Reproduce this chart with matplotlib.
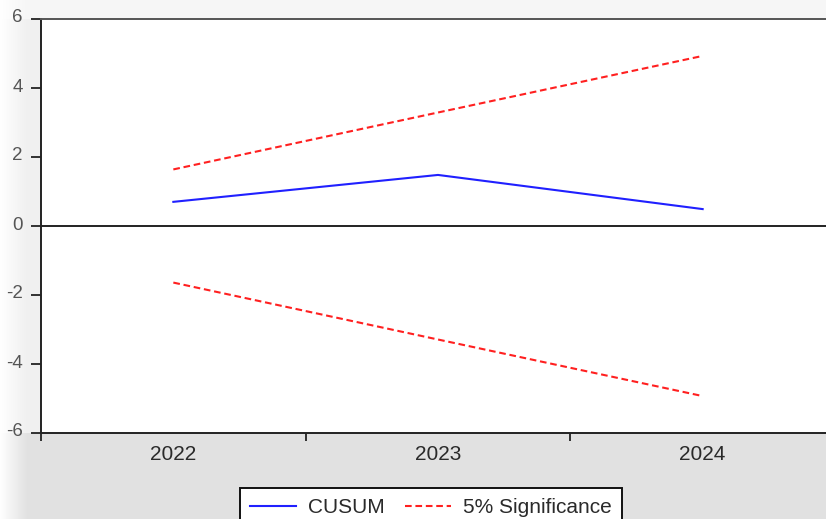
import numpy as np
import matplotlib
matplotlib.use('Agg')
import matplotlib.pyplot as plt
from matplotlib.patches import Rectangle
from matplotlib.transforms import ScaledTranslation

plt.rcParams['font.family'] = ['Liberation Sans', 'DejaVu Sans']

years = ['2022', '2023', '2024']
cusum = [0.70, 1.48, 0.49]
upper_5pct = [1.64, 3.29, 4.93]
lower_5pct = [-1.64, -3.29, -4.93]

W, H = 826, 519
fig = plt.figure(figsize=(W / 100, H / 100), dpi=100, facecolor='#e1e1e1')

# lighter window area above the bottom strip, with a soft fade at the left edge
fig.patches.append(Rectangle((0, 86 / H), 1, 1, transform=fig.transFigure,
                             facecolor='#f0f0f0', edgecolor='none', zorder=-3))
fig.patches.append(Rectangle((0, 500 / H), 1, 1, transform=fig.transFigure,
                             facecolor='#f6f6f6', edgecolor='none', zorder=-2))
fade = np.linspace(1.0, 0.0, 64)[None, :]
fax = fig.add_axes([0, 0, 28 / W, 1], zorder=-1)
fax.imshow(np.dstack([np.ones((1, 64, 3)), fade[..., None]]), aspect='auto',
           extent=[0, 1, 0, 1])
fax.axis('off')

ax = fig.add_axes([41 / W, 86 / H, 794 / W, 414 / H])
ax.set_facecolor('white')
x = np.arange(len(years))

ax.plot(x, cusum, color='#2020ff', lw=1.5, label='CUSUM')
ax.plot(x, upper_5pct, color='#ff2020', lw=1.5, ls=(0, (3.2, 1.8)), label='5% Significance')
ax.plot(x, lower_5pct, color='#ff2020', lw=1.5, ls=(0, (3.2, 1.8)))
ax.axhline(0, color='#111111', lw=1.3)

ax.set_xlim(-0.5, 2.5)
ax.set_ylim(-6, 6)
ax.set_yticks([-6, -4, -2, 0, 2, 4, 6])
ax.set_yticklabels(['-6', '-4', '-2', '0', '2', '4', '6'])
ax.tick_params(axis='y', direction='out', length=7, width=1.3, color='#222222',
               labelsize=13.5, labelcolor='#555555', pad=6)
# y labels sit a touch above their ticks
lift = ScaledTranslation(0, 3 / 100, fig.dpi_scale_trans)
for lbl in ax.get_yticklabels():
    lbl.set_transform(lbl.get_transform() + lift)

# year boundaries carry the ticks, labels sit in the middle of each year
ax.set_xticks([-0.5, 0.5, 1.5, 2.5])
ax.set_xticklabels([])
ax.set_xticks(x, minor=True)
ax.set_xticklabels(years, minor=True)
ax.tick_params(axis='x', which='major', direction='out', length=6, width=1.3, color='#222222')
ax.tick_params(axis='x', which='minor', length=0, labelsize=15, labelcolor='#2a2a2a', pad=9)

for side in ['left', 'bottom', 'top']:
    ax.spines[side].set_color('#222222')
    ax.spines[side].set_linewidth(1.4)
ax.spines['top'].set_color('#555555')
ax.spines['right'].set_visible(False)

leg = fig.legend(loc='upper left', bbox_to_anchor=(240 / W, 31 / H), ncol=2,
                 fontsize=15, frameon=True, fancybox=False, framealpha=1,
                 edgecolor='#111111', handlelength=2.2, columnspacing=1.0,
                 borderpad=0.5, handletextpad=0.55, borderaxespad=0)
leg.get_frame().set_linewidth(1.4)
for t in leg.get_texts():
    t.set_color('#2a2a2a')

fig.savefig('out.png', dpi=100, facecolor=fig.get_facecolor())
